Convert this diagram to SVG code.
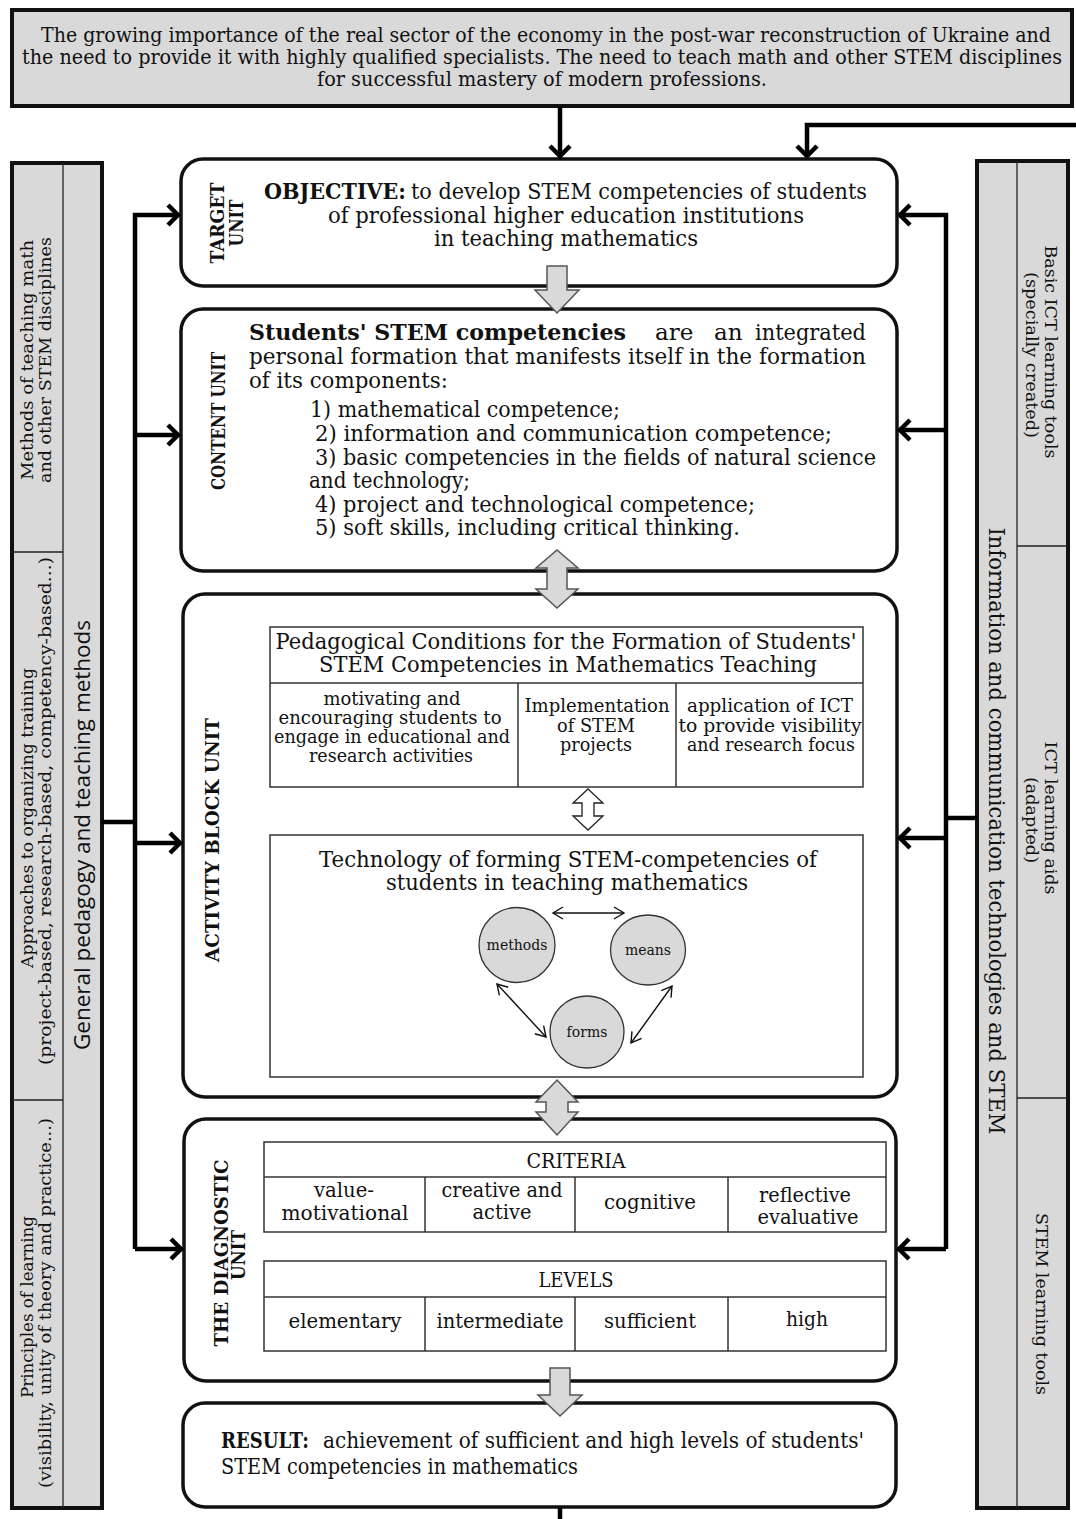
<svg xmlns="http://www.w3.org/2000/svg" width="1076" height="1519" viewBox="0 0 1076 1519">
<style>
.t{font-family:"DejaVu Serif","Liberation Serif",serif;fill:#111}
.b{font-weight:bold}
.s{font-family:"Open Sans","Noto Sans",sans-serif;fill:#111}
.box{fill:#fff;stroke:#111;stroke-width:3.5}
.col{fill:#d9d9d9;stroke:#111;stroke-width:4}
.thin{fill:none;stroke:#222;stroke-width:1.3}
.tbl{fill:#fff;stroke:#333;stroke-width:1.5}
.conn{fill:none;stroke:#000;stroke-width:4.5;marker-end:url(#ah)}
.blk{fill:#d9d9d9;stroke:#555;stroke-width:1.5}
.circ{fill:#d9d9d9;stroke:#333;stroke-width:1.3}
.carr{fill:none;stroke:#111;stroke-width:1.4;marker-start:url(#sa);marker-end:url(#sa)}
</style>
<defs>
<marker id="ah" markerWidth="18" markerHeight="26" refX="14" refY="13" orient="auto" markerUnits="userSpaceOnUse"><path d="M3,3 L13,13 L3,23" fill="none" stroke="#000" stroke-width="4.5"/></marker>
<marker id="sa" markerWidth="14" markerHeight="14" refX="11" refY="7" orient="auto-start-reverse" markerUnits="userSpaceOnUse"><path d="M1,1 L11,7 L1,13" fill="none" stroke="#111" stroke-width="1.4"/></marker>
</defs>
<rect width="1076" height="1519" fill="#fff"/>

<g id="banner">
<rect x="12" y="10" width="1060" height="96" class="col"/>
<text class="t" font-size="21" x="546" y="42" text-anchor="middle" textLength="1010" lengthAdjust="spacingAndGlyphs">The growing importance of the real sector of the economy in the post-war reconstruction of Ukraine and</text>
<text class="t" font-size="21" x="542" y="64" text-anchor="middle" textLength="1040" lengthAdjust="spacingAndGlyphs">the need to provide it with highly qualified specialists. The need to teach math and other STEM disciplines</text>
<text class="t" font-size="21" x="542" y="86" text-anchor="middle" textLength="450" lengthAdjust="spacingAndGlyphs">for successful mastery of modern professions.</text>
</g>

<g id="left-column">
<rect x="12" y="163" width="90" height="1345" class="col"/>
<line x1="63" y1="163" x2="63" y2="1508" class="thin"/>
<line x1="12" y1="552" x2="63" y2="552" class="thin"/>
<line x1="12" y1="1100" x2="63" y2="1100" class="thin"/>
<text class="t" font-size="17" transform="translate(33,360) rotate(-90)" text-anchor="middle" textLength="240" lengthAdjust="spacingAndGlyphs">Methods of teaching math</text>
<text class="t" font-size="17" transform="translate(51,360) rotate(-90)" text-anchor="middle" textLength="246" lengthAdjust="spacingAndGlyphs">and other STEM disciplines</text>
<text class="t" font-size="17" transform="translate(33,818) rotate(-90)" text-anchor="middle" textLength="300" lengthAdjust="spacingAndGlyphs">Approaches to organizing training</text>
<text class="t" font-size="17" transform="translate(51,811) rotate(-90)" text-anchor="middle" textLength="508" lengthAdjust="spacingAndGlyphs">(project-based, research-based, competency-based...)</text>
<text class="t" font-size="17" transform="translate(33,1307) rotate(-90)" text-anchor="middle" textLength="182" lengthAdjust="spacingAndGlyphs">Principles of learning</text>
<text class="t" font-size="17" transform="translate(51,1303) rotate(-90)" text-anchor="middle" textLength="370" lengthAdjust="spacingAndGlyphs">(visibility, unity of theory and practice...)</text>
<text class="s" font-size="22" transform="translate(90,835) rotate(-90)" text-anchor="middle" textLength="430" lengthAdjust="spacingAndGlyphs">General pedagogy and teaching methods</text>
</g>

<g id="right-column">
<rect x="977" y="161" width="91" height="1347" class="col"/>
<line x1="1017" y1="161" x2="1017" y2="1508" class="thin"/>
<line x1="1017" y1="546" x2="1068" y2="546" class="thin"/>
<line x1="1017" y1="1098" x2="1068" y2="1098" class="thin"/>
<text class="t" font-size="17" transform="translate(1045,352) rotate(90)" text-anchor="middle" textLength="213" lengthAdjust="spacingAndGlyphs">Basic ICT learning tools</text>
<text class="t" font-size="17" transform="translate(1026,355) rotate(90)" text-anchor="middle" textLength="166" lengthAdjust="spacingAndGlyphs">(specially created)</text>
<text class="t" font-size="17" transform="translate(1045,818) rotate(90)" text-anchor="middle" textLength="153" lengthAdjust="spacingAndGlyphs">ICT learning aids</text>
<text class="t" font-size="17" transform="translate(1026,820) rotate(90)" text-anchor="middle" textLength="86" lengthAdjust="spacingAndGlyphs">(adapted)</text>
<text class="t" font-size="17" transform="translate(1036,1304) rotate(90)" text-anchor="middle" textLength="182" lengthAdjust="spacingAndGlyphs">STEM learning tools</text>
<text class="t" font-size="22" transform="translate(989,831) rotate(90)" text-anchor="middle" textLength="607" lengthAdjust="spacingAndGlyphs">Information and communication technologies and STEM</text>
</g>

<g id="target-unit">
<rect x="181" y="159" width="716" height="127" rx="22" class="box"/>
<text class="t b" font-size="18" transform="translate(224,223) rotate(-90)" text-anchor="middle" textLength="81" lengthAdjust="spacingAndGlyphs">TARGET</text>
<text class="t b" font-size="18" transform="translate(243,223) rotate(-90)" text-anchor="middle" textLength="47" lengthAdjust="spacingAndGlyphs">UNIT</text>
<text class="t b" font-size="23" x="264" y="199" textLength="142" lengthAdjust="spacingAndGlyphs">OBJECTIVE:</text>
<text class="t" font-size="23" x="411" y="199" textLength="456" lengthAdjust="spacingAndGlyphs">to develop STEM competencies of students</text>
<text class="t" font-size="23" x="566" y="223" text-anchor="middle" textLength="476" lengthAdjust="spacingAndGlyphs">of professional higher education institutions</text>
<text class="t" font-size="23" x="566" y="246" text-anchor="middle" textLength="264" lengthAdjust="spacingAndGlyphs">in teaching mathematics</text>
</g>

<g id="content-unit">
<rect x="181" y="309" width="716" height="262" rx="22" class="box"/>
<text class="t b" font-size="19" transform="translate(225,421) rotate(-90)" text-anchor="middle" textLength="138" lengthAdjust="spacingAndGlyphs">CONTENT UNIT</text>
<text class="t b" font-size="23" x="249" y="340" textLength="377" lengthAdjust="spacingAndGlyphs">Students' STEM competencies</text>
<text class="t" font-size="23" x="655" y="340">are</text>
<text class="t" font-size="23" x="714" y="340">an</text>
<text class="t" font-size="23" x="866" y="340" text-anchor="end" textLength="111" lengthAdjust="spacingAndGlyphs">integrated</text>
<text class="t" font-size="23" x="249" y="364" textLength="617" lengthAdjust="spacingAndGlyphs">personal formation that manifests itself in the formation</text>
<text class="t" font-size="23" x="249" y="388" textLength="199" lengthAdjust="spacingAndGlyphs">of its components:</text>
<text class="t" font-size="23" x="310" y="417" textLength="310" lengthAdjust="spacingAndGlyphs">1) mathematical competence;</text>
<text class="t" font-size="23" x="315" y="441" textLength="517" lengthAdjust="spacingAndGlyphs">2) information and communication competence;</text>
<text class="t" font-size="23" x="315" y="465" textLength="561" lengthAdjust="spacingAndGlyphs">3) basic competencies in the fields of natural science</text>
<text class="t" font-size="23" x="309" y="488" textLength="161" lengthAdjust="spacingAndGlyphs">and technology;</text>
<text class="t" font-size="23" x="315" y="512" textLength="440" lengthAdjust="spacingAndGlyphs">4) project and technological competence;</text>
<text class="t" font-size="23" x="315" y="535" textLength="425" lengthAdjust="spacingAndGlyphs">5) soft skills, including critical thinking.</text>
</g>

<g id="activity-unit">
<rect x="183" y="594" width="714" height="503" rx="22" class="box"/>
<text class="t b" font-size="19" transform="translate(219,840) rotate(-90)" text-anchor="middle" textLength="244" lengthAdjust="spacingAndGlyphs">ACTIVITY BLOCK UNIT</text>
</g>

<g id="pedagogical-conditions">
<rect x="270" y="627" width="593" height="160" class="tbl"/>
<line x1="270" y1="683" x2="863" y2="683" stroke="#333" stroke-width="1.5"/>
<line x1="518" y1="683" x2="518" y2="787" stroke="#333" stroke-width="1.5"/>
<line x1="676" y1="683" x2="676" y2="787" stroke="#333" stroke-width="1.5"/>
<text class="t" font-size="22" x="566" y="649" text-anchor="middle" textLength="581" lengthAdjust="spacingAndGlyphs">Pedagogical Conditions for the Formation of Students'</text>
<text class="t" font-size="22" x="568" y="672" text-anchor="middle" textLength="498" lengthAdjust="spacingAndGlyphs">STEM Competencies in Mathematics Teaching</text>
<g font-size="19" text-anchor="middle">
<text class="t" x="392" y="705" textLength="137" lengthAdjust="spacingAndGlyphs">motivating and</text>
<text class="t" x="390" y="724" textLength="223" lengthAdjust="spacingAndGlyphs">encouraging students to</text>
<text class="t" x="392" y="743" textLength="236" lengthAdjust="spacingAndGlyphs">engage in educational and</text>
<text class="t" x="391" y="762" textLength="164" lengthAdjust="spacingAndGlyphs">research activities</text>
<text class="t" x="597" y="712" textLength="145" lengthAdjust="spacingAndGlyphs">Implementation</text>
<text class="t" x="596" y="732" textLength="78" lengthAdjust="spacingAndGlyphs">of STEM</text>
<text class="t" x="596" y="751" textLength="72" lengthAdjust="spacingAndGlyphs">projects</text>
<text class="t" x="770" y="712" textLength="166" lengthAdjust="spacingAndGlyphs">application of ICT</text>
<text class="t" x="770" y="732" textLength="183" lengthAdjust="spacingAndGlyphs">to provide visibility</text>
<text class="t" x="771" y="751" textLength="168" lengthAdjust="spacingAndGlyphs">and research focus</text>
</g>
</g>

<g id="technology">
<rect x="270" y="835" width="593" height="242" class="tbl"/>
<text class="t" font-size="23" x="568" y="867" text-anchor="middle" textLength="498" lengthAdjust="spacingAndGlyphs">Technology of forming STEM-competencies of</text>
<text class="t" font-size="23" x="567" y="890" text-anchor="middle" textLength="362" lengthAdjust="spacingAndGlyphs">students in teaching mathematics</text>
</g>
<g id="methods"><ellipse cx="517" cy="945" rx="38" ry="37.5" class="circ"/><text class="t" font-size="14" x="517" y="950" text-anchor="middle">methods</text></g>
<g id="means"><ellipse cx="648" cy="950" rx="37.5" ry="35" class="circ"/><text class="t" font-size="14" x="648" y="955" text-anchor="middle">means</text></g>
<g id="forms"><ellipse cx="587" cy="1032" rx="37" ry="36" class="circ"/><text class="t" font-size="14" x="587" y="1037" text-anchor="middle">forms</text></g>

<g id="diagnostic-unit">
<rect x="184" y="1119" width="712" height="262" rx="22" class="box"/>
<text class="t b" font-size="18" transform="translate(228,1253) rotate(-90)" text-anchor="middle" textLength="187" lengthAdjust="spacingAndGlyphs">THE DIAGNOSTIC</text>
<text class="t b" font-size="18" transform="translate(245,1255) rotate(-90)" text-anchor="middle" textLength="50" lengthAdjust="spacingAndGlyphs">UNIT</text>
<rect x="264" y="1142" width="622" height="90" class="tbl"/>
<line x1="264" y1="1177" x2="886" y2="1177" stroke="#333" stroke-width="1.5"/>
<line x1="425" y1="1177" x2="425" y2="1232" stroke="#333" stroke-width="1.5"/>
<line x1="575" y1="1177" x2="575" y2="1232" stroke="#333" stroke-width="1.5"/>
<line x1="728" y1="1177" x2="728" y2="1232" stroke="#333" stroke-width="1.5"/>
<rect x="264" y="1261" width="622" height="90" class="tbl"/>
<line x1="264" y1="1297" x2="886" y2="1297" stroke="#333" stroke-width="1.5"/>
<line x1="425" y1="1297" x2="425" y2="1351" stroke="#333" stroke-width="1.5"/>
<line x1="575" y1="1297" x2="575" y2="1351" stroke="#333" stroke-width="1.5"/>
<line x1="728" y1="1297" x2="728" y2="1351" stroke="#333" stroke-width="1.5"/>
<g font-size="21" text-anchor="middle">
<text class="t" x="576" y="1168" textLength="99" lengthAdjust="spacingAndGlyphs">CRITERIA</text>
<text class="t" x="344" y="1197" textLength="60" lengthAdjust="spacingAndGlyphs">value-</text>
<text class="t" x="345" y="1220" textLength="127" lengthAdjust="spacingAndGlyphs">motivational</text>
<text class="t" x="502" y="1197" textLength="121" lengthAdjust="spacingAndGlyphs">creative and</text>
<text class="t" x="502" y="1219" textLength="59" lengthAdjust="spacingAndGlyphs">active</text>
<text class="t" x="650" y="1209" textLength="92" lengthAdjust="spacingAndGlyphs">cognitive</text>
<text class="t" x="805" y="1202" textLength="92" lengthAdjust="spacingAndGlyphs">reflective</text>
<text class="t" x="808" y="1224" textLength="101" lengthAdjust="spacingAndGlyphs">evaluative</text>
<text class="t" x="576" y="1287" textLength="75" lengthAdjust="spacingAndGlyphs">LEVELS</text>
<text class="t" x="345" y="1328" textLength="113" lengthAdjust="spacingAndGlyphs">elementary</text>
<text class="t" x="500" y="1328" textLength="127" lengthAdjust="spacingAndGlyphs">intermediate</text>
<text class="t" x="650" y="1328" textLength="92" lengthAdjust="spacingAndGlyphs">sufficient</text>
<text class="t" x="807" y="1326" textLength="42" lengthAdjust="spacingAndGlyphs">high</text>
</g>
</g>

<g id="result">
<rect x="183" y="1403" width="713" height="104" rx="22" class="box"/>
<text class="t b" font-size="23" x="221" y="1448" textLength="88" lengthAdjust="spacingAndGlyphs">RESULT:</text>
<text class="t" font-size="23" x="323" y="1448" textLength="541" lengthAdjust="spacingAndGlyphs">achievement of sufficient and high levels of students'</text>
<text class="t" font-size="23" x="221" y="1474" textLength="357" lengthAdjust="spacingAndGlyphs">STEM competencies in mathematics</text>
</g>

<g id="connectors">
<path class="conn" d="M560,106 V157"/>
<path class="conn" d="M1076,125 H807 V157"/>
<path d="M102,822 H135" fill="none" stroke="#000" stroke-width="4.5"/>
<path class="conn" d="M135,1249 V215 H179"/>
<path class="conn" d="M135,1249 H182"/>
<path class="conn" d="M135,435 H179"/>
<path class="conn" d="M135,843 H181"/>
<path d="M977,818 H946" fill="none" stroke="#000" stroke-width="4.5"/>
<path class="conn" d="M946,1249 V215 H899"/>
<path class="conn" d="M946,1249 H898"/>
<path class="conn" d="M946,430 H899"/>
<path class="conn" d="M946,838 H899"/>
<path d="M560,1507 V1519" fill="none" stroke="#000" stroke-width="4.5"/>
<polygon class="blk" points="547,266 567,266 567,290 579,290 557,313 535,290 547,290"/>
<polygon class="blk" points="557,550 578,568 567,568 567,589 578,589 557,608 536,589 547,589 547,568 536,568"/>
<polygon class="blk" points="557,1080 578,1102 568,1102 568,1112 578,1112 557,1135 536,1112 546,1112 546,1102 536,1102"/>
<polygon class="blk" points="550,1368 570,1368 570,1395 582,1395 560,1416 538,1395 550,1395"/>
<polygon points="588,789 603,803 594,803 594,816 603,816 588,830 573,816 582,816 582,803 573,803" fill="#fff" stroke="#222" stroke-width="1.3"/>
<path class="carr" d="M553,913 H624"/>
<path class="carr" d="M497,984 L546,1037"/>
<path class="carr" d="M672,986 L631,1043"/>
</g>
</svg>
